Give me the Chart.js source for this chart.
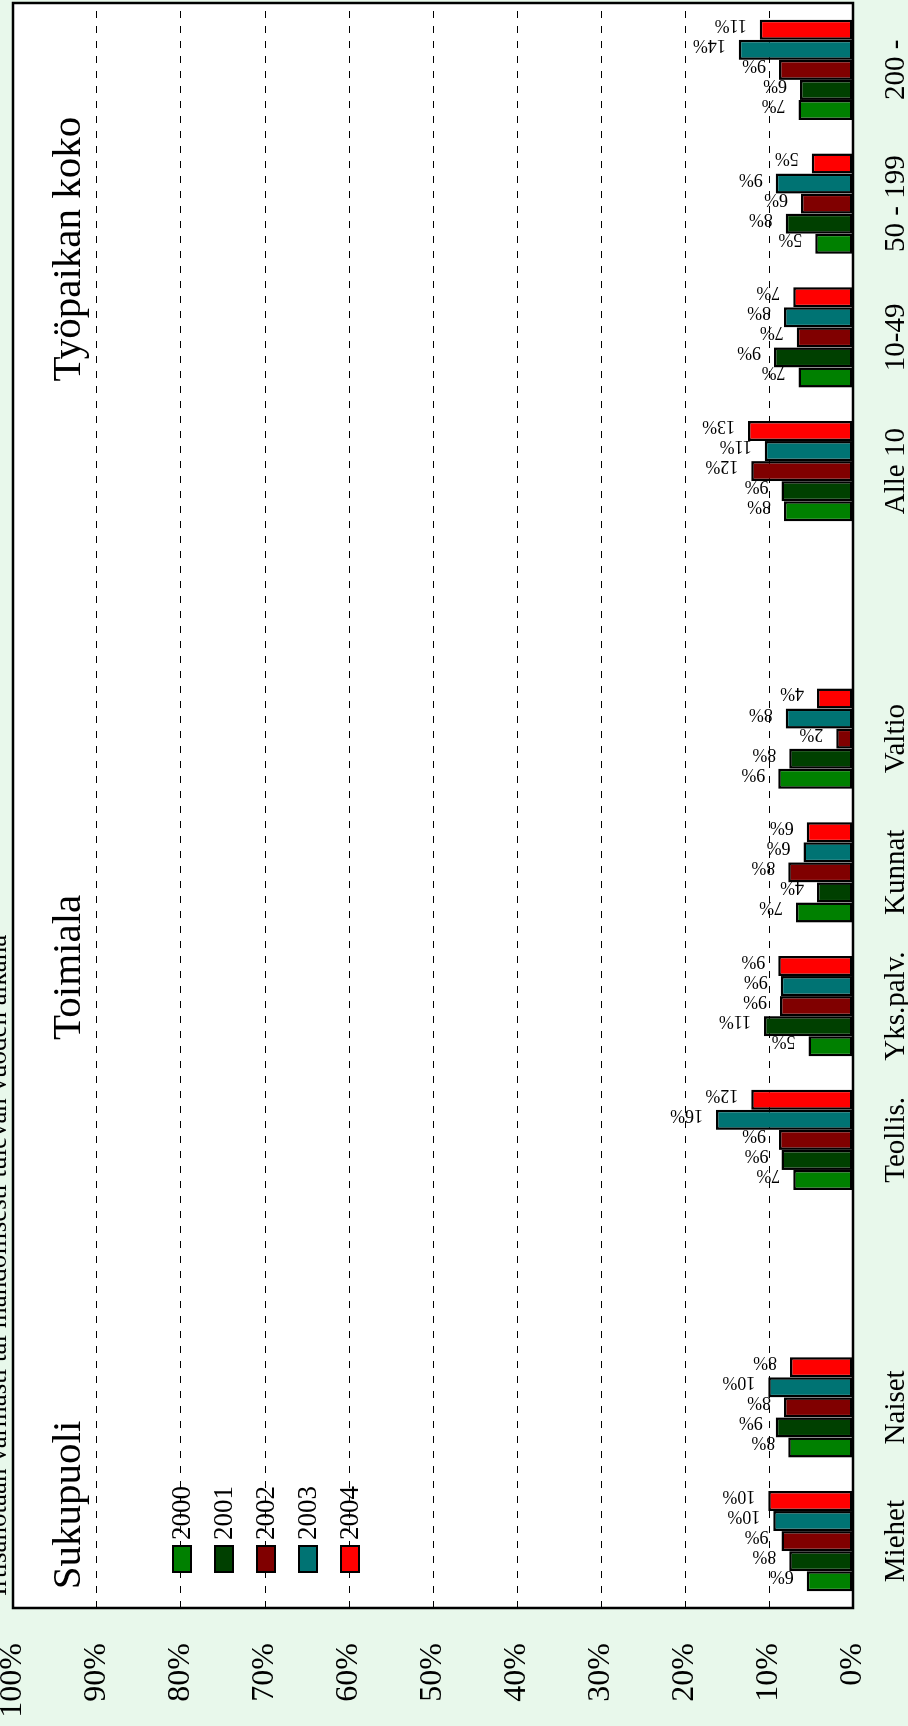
<!DOCTYPE html>
<html>
<head>
<meta charset="utf-8">
<script src="https://cdn.jsdelivr.net/npm/chart.js@4.4.1/dist/chart.umd.min.js"></script>
<style>
  html, body { margin: 0; padding: 0; background: #e8f8eb; overflow: hidden; }
  /* kaavio piirretään vaakaan ja käännetään 90 astetta vastapäivään */
  #kehys {
    position: absolute; left: 0; top: 0;
    width: 1726px; height: 908px;
    transform-origin: 0 0;
    transform: translateY(1726px) rotate(-90deg);
  }
</style>
</head>
<body>
<div id="kehys"><canvas id="kaavio" width="1726" height="908"></canvas></div>
<script>
// ================= DATA =================
const kategoriat = ['Miehet', 'Naiset', '', 'Teollis.', 'Yks.palv.', 'Kunnat', 'Valtio', '', 'Alle 10', '10-49', '50 - 199', '200 -'];
const vuodet = ['2000', '2001', '2002', '2003', '2004'];

const arvot2000 = [5.5, 7.7, null, 7.1, 5.3, 6.8, 8.9, null, 8.2, 6.5, 4.5, 6.5];
const arvot2001 = [7.6, 9.2, null, 8.5, 10.6, 4.3, 7.6, null, 8.5, 9.4, 8.0, 6.3];
const arvot2002 = [8.5, 8.2, null, 8.8, 8.7, 7.7, 2.0, null, 12.1, 6.7, 6.2, 8.8];
const arvot2003 = [9.5, 10.1, null, 16.3, 8.6, 5.9, 8.0, null, 10.5, 8.2, 9.2, 13.6];
const arvot2004 = [10.1, 7.5, null, 12.1, 8.9, 5.5, 4.3, null, 12.5, 7.1, 4.9, 11.1];

const varit = ['#008000', '#004000', '#800000', '#007373', '#ff0000'];

const otsikko = 'Irtisanotaan varmasti tai mahdollisesti tulevan vuoden aikana';
// ryhmäotsikot ja niiden kohta kategoria-akselilla
const ryhmat = [
  { teksti: 'Sukupuoli', kohta: 0.27 },
  { teksti: 'Toimiala', kohta: 4.29 },
  { teksti: 'Työpaikan koko', kohta: 9.66 }
];

const fontti = "'Liberation Serif', 'Times New Roman', serif";
const tausta = '#e8f8eb';

// ================= PLUGIN: tausta, kehys, arvot, selite =================
const lisapiirrot = {
  id: 'lisapiirrot',
  beforeDraw(chart) {
    const { ctx, chartArea: a } = chart;
    ctx.save();
    ctx.fillStyle = tausta;
    ctx.fillRect(0, 0, chart.width, chart.height);
    ctx.fillStyle = '#ffffff';
    ctx.fillRect(a.left, a.top, a.right - a.left, a.bottom - a.top);
    ctx.restore();
  },
  afterDatasetsDraw(chart) {
    const { ctx, chartArea: a } = chart;
    const xs = chart.scales.x;

    // arvot pylväiden päihin (pystyssä)
    ctx.save();
    ctx.fillStyle = '#000';
    ctx.font = '18px ' + fontti;
    chart.data.datasets.forEach((ds, i) => {
      const meta = chart.getDatasetMeta(i);
      meta.data.forEach((bar, j) => {
        const v = ds.data[j];
        if (v == null) return;
        ctx.save();
        ctx.translate(bar.x + bar.width / 2, bar.y - 13);
        ctx.rotate(-Math.PI / 2);
        ctx.textAlign = 'left';
        ctx.textBaseline = 'alphabetic';
        ctx.fillText(Math.round(v) + '%', 0, 0);
        ctx.restore();
      });
    });
    ctx.restore();

    // kehys
    ctx.save();
    ctx.strokeStyle = '#000';
    ctx.lineWidth = 2.5;
    ctx.strokeRect(a.left, a.top, a.right - a.left, a.bottom - a.top);
    ctx.restore();

    // selite
    ctx.save();
    ctx.font = '27px ' + fontti;
    ctx.textAlign = 'left';
    ctx.textBaseline = 'middle';
    chart.data.datasets.forEach((ds, i) => {
      const y = a.top + 169 + i * 42;
      const x = a.left + 36;
      ctx.fillStyle = ds.backgroundColor;
      ctx.fillRect(x, y - 9, 26, 18);
      ctx.lineWidth = 2;
      ctx.strokeStyle = '#000';
      ctx.strokeRect(x, y - 9, 26, 18);
      ctx.fillStyle = '#000';
      ctx.fillText(ds.label, x + 32, y + 1);
    });
    ctx.restore();

    // ryhmäotsikot
    ctx.save();
    ctx.font = '41px ' + fontti;
    ctx.fillStyle = '#000';
    ctx.textAlign = 'center';
    ctx.textBaseline = 'alphabetic';
    ryhmat.forEach(r => {
      const x = xs.getPixelForValue(0) + r.kohta * (xs.getPixelForValue(1) - xs.getPixelForValue(0));
      ctx.fillText(r.teksti, x, 80);
    });
    ctx.restore();

    // pääotsikko (leikkautuu yläreunaan)
    ctx.save();
    ctx.font = '27px ' + fontti;
    ctx.fillStyle = '#000';
    ctx.textAlign = 'left';
    ctx.textBaseline = 'alphabetic';
    ctx.fillText(otsikko, a.left + 12, 6);
    ctx.restore();
  }
};

// ================= KAAVIO =================
const sarjat = [arvot2000, arvot2001, arvot2002, arvot2003, arvot2004];

new Chart(document.getElementById('kaavio').getContext('2d'), {
  type: 'bar',
  data: {
    labels: kategoriat,
    datasets: sarjat.map((d, i) => ({
      label: vuodet[i],
      data: d,
      backgroundColor: varit[i],
      borderColor: '#000',
      borderWidth: 2.5,
      borderSkipped: false,
      categoryPercentage: 0.75,
      barPercentage: 1.0
    }))
  },
  options: {
    responsive: false,
    animation: false,
    devicePixelRatio: 1,
    layout: { padding: { left: 0, top: 13, right: 3, bottom: 0 } },
    plugins: {
      legend: { display: false },
      tooltip: { enabled: false }
    },
    scales: {
      x: {
        grid: { display: false, drawTicks: false },
        border: { display: false },
        ticks: {
          color: '#000',
          font: { family: fontti, size: 29 },
          padding: 26,
          maxRotation: 0,
          autoSkip: false
        },
        afterFit(s) {
          s.height = 55;
          s.paddingLeft = 0; s.paddingRight = 0;
        }
      },
      y: {
        min: 0,
        max: 100,
        grid: { color: '#000', lineWidth: 1, drawTicks: false },
        border: { display: false, dash: [7, 8] },
        ticks: {
          stepSize: 10,
          color: '#000',
          font: { family: fontti, size: 32 },
          padding: 35,
          callback: v => v + '%'
        },
        afterFit(s) {
          s.width = 118;
          s.paddingTop = 0; s.paddingBottom = 0;
        }
      }
    }
  },
  plugins: [lisapiirrot]
});
</script>
</body>
</html>
